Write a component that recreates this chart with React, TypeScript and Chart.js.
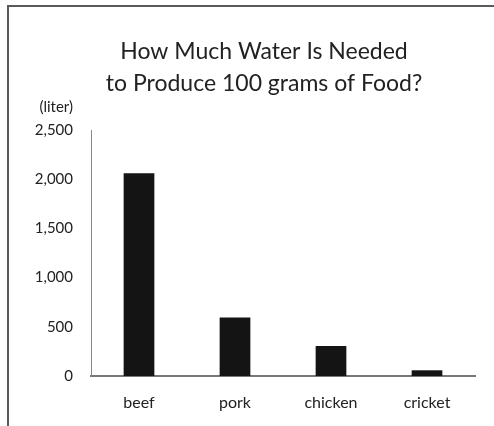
import React, { useEffect, useRef } from "react";
import { Chart, registerables } from "chart.js";

Chart.register(...registerables);

const categories = ["beef", "pork", "chicken", "cricket"];
const waterLiters = [2060, 595, 305, 58];
const yTicks = [0, 500, 1000, 1500, 2000, 2500];
const titleLines = ["How Much Water Is Needed", "to Produce 100 grams of Food?"];
const unitLabel = "(liter)";

const FONT = "Lato, 'Open Sans', sans-serif";

const textPlugin = {
  id: "chartTexts",
  beforeDraw(chart: any) {
    const ctx = chart.ctx;
    ctx.save();
    ctx.fillStyle = "#fff";
    ctx.fillRect(0, 0, chart.width, chart.height);
    ctx.strokeStyle = "#5a5a5a";
    ctx.lineWidth = 2;
    ctx.beginPath();
    ctx.moveTo(8, chart.height);
    ctx.lineTo(8, 6);
    ctx.lineTo(chart.width, 6);
    ctx.stroke();
    ctx.restore();
  },
  afterDraw(chart: any) {
    const y = chart.scales.y;
    const ctx = chart.ctx;
    ctx.save();
    ctx.fillStyle = "#222";
    ctx.font = `23px ${FONT}`;
    ctx.textAlign = "center";
    ctx.textBaseline = "alphabetic";
    ctx.fillText(titleLines[0], 264, 59);
    ctx.fillText(titleLines[1], 264, 91);
    ctx.font = `15px ${FONT}`;
    ctx.textAlign = "right";
    ctx.textBaseline = "middle";
    ctx.fillText(unitLabel, y.right - 18, y.top - 23);
    ctx.restore();
  },
};

export default function App() {
  const ref = useRef<HTMLCanvasElement | null>(null);
  useEffect(() => {
    if (!ref.current) return;
    const chart = new Chart(ref.current, {
      type: "bar",
      data: {
        labels: categories,
        datasets: [
          {
            data: waterLiters,
            backgroundColor: "#141414",
            barPercentage: 1,
            categoryPercentage: 0.32,
          },
        ],
      },
      options: {
        animation: false,
        responsive: false,
        devicePixelRatio: 1,
        layout: { padding: { left: 8, right: 19, top: 130, bottom: 0 } },
        plugins: {
          legend: { display: false },
          tooltip: { enabled: false },
          title: { display: false },
        },
        scales: {
          x: {
            grid: { display: false, drawTicks: false },
            border: { display: true, color: "#777", width: 2 },
            ticks: { color: "#222", font: { family: FONT, size: 16 }, padding: 17 },
            afterFit(scale: any) {
              scale.height = 50;
            },
          },
          y: {
            min: 0,
            max: 2500,
            afterBuildTicks(scale: any) {
              scale.ticks = yTicks.map((v) => ({ value: v }));
            },
            grid: { display: false, drawTicks: false },
            border: { display: true, color: "#888", width: 1 },
            ticks: {
              color: "#222",
              font: { family: FONT, size: 15 },
              padding: 18,
              callback: (v: any) => Number(v).toLocaleString("en-US"),
            },
            afterFit(scale: any) {
              scale.width = 83;
            },
          },
        },
      },
      plugins: [textPlugin],
    });
    return () => chart.destroy();
  }, []);

  return (
    <div
      style={{
        position: "fixed",
        left: 0,
        top: 0,
        width: 494,
        height: 426,
        background: "#fff",
        overflow: "hidden",
      }}
    >
      <canvas ref={ref} width={494} height={426} style={{ display: "block" }} />
    </div>
  );
}
